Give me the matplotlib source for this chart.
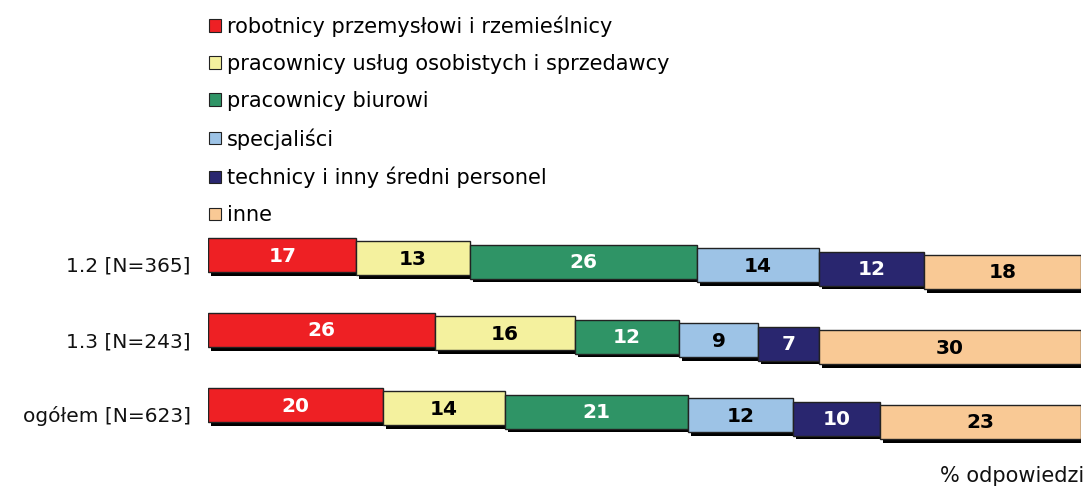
import matplotlib.pyplot as plt
import matplotlib.patches as mpatches
import numpy as np

plt.rcParams['font.family'] = 'DejaVu Sans'

# data
groups = ['1.2 [N=365]', '1.3 [N=243]', 'ogółem [N=623]']
series = ['robotnicy przemysłowi i rzemieślnicy',
          'pracownicy usług osobistych i sprzedawcy',
          'pracownicy biurowi',
          'specjaliści',
          'technicy i inny średni personel',
          'inne']
robotnicy = [17, 26, 20]
uslugi = [13, 16, 14]
biurowi = [26, 12, 21]
specjalisci = [14, 9, 12]
technicy = [12, 7, 10]
inne = [18, 30, 23]
values = [robotnicy, uslugi, biurowi, specjalisci, technicy, inne]

colors = ['#EE2024', '#F4F19E', '#2F9466', '#9DC3E6', '#29266F', '#F9C995']
text_colors = ['white', 'black', 'white', 'black', 'white', 'black']

W, H = 1086, 488
fig = plt.figure(figsize=(W / 100, H / 100), dpi=100)
ax = fig.add_axes([208 / W, 0, (1081 - 208) / W, 1])
ax.set_xlim(0, 100)
ax.set_ylim(H, 0)  # pixel-like vertical units, top down
ax.axis('off')

row_top0 = 238
row_gap = 75
bar_h = 34
step = 3.4        # vertical drop of every next series (3D look)
sh_dx = 0.35      # shadow offset (x units)
sh_dy = 3.5       # shadow offset (y units)

handles = []
left = np.zeros(len(groups))
for j, (vals, col, tcol) in enumerate(zip(values, colors, text_colors)):
    vals = np.array(vals, dtype=float)
    ys = row_top0 + row_gap * np.arange(len(groups)) + step * j + bar_h / 2
    # shadow
    ax.barh(ys + sh_dy, vals, left=left + sh_dx, height=bar_h,
            color='black', edgecolor='none', zorder=1 + 2 * j)
    ax.barh(ys, vals, left=left, height=bar_h, color=col,
            edgecolor='#222222', linewidth=1.0, zorder=2 + 2 * j)
    for x0, v, y in zip(left, vals, ys):
        ax.text(x0 + v / 2, y + 1, f'{int(v)}', ha='center', va='center',
                color=tcol, fontsize=14.5, fontweight='bold', zorder=20)
    handles.append(mpatches.Patch(facecolor=col, edgecolor='#222222',
                                  linewidth=0.8, label=series[j]))
    left += vals

# category labels
for i, g in enumerate(groups):
    y = row_top0 + row_gap * i + bar_h / 2 + step * 2.5 + 3
    ax.text(-2.0, y, g, ha='right', va='center', fontsize=14.5,
            color='#111111')

fig.legend(handles=handles, loc='upper left',
           bbox_to_anchor=(201 / W, 1 - 7 / H), frameon=False,
           fontsize=15, handlelength=0.55, handleheight=0.55,
           handletextpad=0.3, labelspacing=0.82, borderaxespad=0)

fig.text(1084 / W, 1 - 476 / H, '% odpowiedzi', ha='right', va='center',
         fontsize=15, color='#111111')

fig.savefig('out.png', dpi=100, facecolor='white')
